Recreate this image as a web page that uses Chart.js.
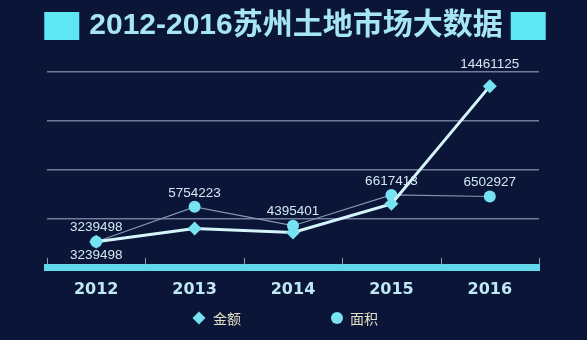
<!DOCTYPE html>
<html>
<head>
<meta charset="utf-8">
<style>
  html, body { margin: 0; padding: 0; background: #0a1538; }
  #wrap { width: 587px; height: 340px; }
</style>
<script src="https://cdn.jsdelivr.net/npm/chart.js@4/dist/chart.umd.min.js"></script>
</head>
<body>
<div id="wrap"><canvas id="c" width="587" height="340"></canvas></div>
<script>
// 苏州土地市场 2012-2016
const titleText = '2012-2016苏州土地市场大数据';
const years = ['2012', '2013', '2014', '2015', '2016'];
const amountName = '金额';
const areaName = '面积';
const amountValues = [3239498, 4200000, 3910000, 5970000, 14461125];
const areaValues = [3239498, 5754223, 4395401, 6617413, 6502927];
// which points carry a value label, and on which side
const amountLabelled = [0, 4];
const amountLabelSide = ['below', 'above'];
const areaLabelled = [0, 1, 2, 3, 4];

const BG = '#0a1538';
const MARK = '#76e2f2';

const paintPlugin = {
  id: 'paint',
  beforeDraw(chart) {
    const ctx = chart.ctx;
    ctx.save();
    ctx.fillStyle = BG;
    ctx.fillRect(0, 0, chart.width, chart.height);
    ctx.restore();
  },
  beforeDatasetsDraw(chart) {
    // short tick marks at category boundaries, rising from the axis bar
    const ctx = chart.ctx;
    const x = chart.scales.x;
    const bottom = chart.chartArea.bottom;
    ctx.save();
    ctx.strokeStyle = '#8e9bb6';
    ctx.lineWidth = 1;
    for (let i = 0; i <= years.length; i++) {
      const px = Math.round(x.getPixelForValue(i - 0.5)) + 0.5;
      ctx.beginPath();
      ctx.moveTo(px, bottom - 10);
      ctx.lineTo(px, bottom - 3);
      ctx.stroke();
    }
    ctx.restore();
  },
  afterDatasetsDraw(chart) {
    const ctx = chart.ctx;
    ctx.save();
    ctx.font = '13.5px "Liberation Sans", sans-serif';
    ctx.fillStyle = '#d3e8f3';
    ctx.textAlign = 'center';
    ctx.textBaseline = 'middle';
    const amountMeta = chart.getDatasetMeta(0);
    amountLabelled.forEach((idx, k) => {
      const p = amountMeta.data[idx];
      const dy = amountLabelSide[k] === 'below' ? 14 : -22;
      ctx.fillText(String(amountValues[idx]), p.x, p.y + dy);
    });
    const areaMeta = chart.getDatasetMeta(1);
    areaLabelled.forEach(idx => {
      const p = areaMeta.data[idx];
      ctx.fillText(String(areaValues[idx]), p.x, p.y - 14);
    });
    ctx.restore();
  },
  afterDraw(chart) {
    const ctx = chart.ctx;
    ctx.save();
    // title with square markers on both sides
    ctx.font = 'bold 30px "Liberation Sans", "Noto Sans CJK SC", sans-serif';
    ctx.textBaseline = 'middle';
    ctx.textAlign = 'center';
    const cx = 296, cy = 26;
    const tw = ctx.measureText(titleText).width;
    ctx.fillStyle = '#5fe6f4';
    ctx.fillRect(cx - tw / 2 - 45, 12, 35, 28);
    ctx.fillRect(cx + tw / 2 + 8, 12, 35, 28);
    ctx.fillStyle = '#a6e6f3';
    ctx.fillText(titleText, cx, cy);

    // legend
    const ly = 318;
    ctx.font = '14px "Noto Sans CJK SC", sans-serif';
    ctx.textAlign = 'left';
    ctx.fillStyle = MARK;
    ctx.beginPath();
    ctx.moveTo(199, ly - 6.5);
    ctx.lineTo(205.5, ly);
    ctx.lineTo(199, ly + 6.5);
    ctx.lineTo(192.5, ly);
    ctx.closePath();
    ctx.fill();
    ctx.beginPath();
    ctx.arc(337, ly, 6, 0, Math.PI * 2);
    ctx.fill();
    ctx.fillStyle = '#e4e0c4';
    ctx.fillText(amountName, 213, ly + 1);
    ctx.fillText(areaName, 350, ly + 1);
    ctx.restore();
  }
};

new Chart(document.getElementById('c'), {
  type: 'line',
  data: {
    labels: years,
    datasets: [
      {
        label: amountName,
        data: amountValues,
        order: 0,
        borderColor: '#d6f5fb',
        borderWidth: 3,
        pointStyle: 'rectRot',
        pointRadius: 7,
        pointBackgroundColor: MARK,
        pointBorderColor: MARK,
        pointBorderWidth: 0,
        tension: 0
      },
      {
        label: areaName,
        data: areaValues,
        order: 1,
        borderColor: '#8797b2',
        borderWidth: 1.2,
        pointStyle: 'circle',
        pointRadius: 6,
        pointBackgroundColor: MARK,
        pointBorderColor: MARK,
        pointBorderWidth: 0,
        tension: 0
      }
    ]
  },
  options: {
    responsive: false,
    animation: false,
    devicePixelRatio: 1,
    layout: { padding: { top: 72, left: 47, right: 48, bottom: 29 } },
    plugins: {
      legend: { display: false },
      title: { display: false },
      tooltip: { enabled: false }
    },
    scales: {
      x: {
        type: 'category',
        offset: true,
        grid: { display: false, drawTicks: false },
        border: { display: true, color: '#62d8ec', width: 7 },
        ticks: {
          color: '#bfe8f4',
          padding: 12,
          font: { family: '"DejaVu Sans", sans-serif', weight: 'bold', size: 16 }
        }
      },
      y: {
        min: 1360000,
        max: 15480000,
        ticks: { display: false, count: 5 },
        grid: { color: '#6e7d9a', lineWidth: 1.5, drawTicks: false },
        border: { display: false }
      }
    }
  },
  plugins: [paintPlugin]
});
</script>
</body>
</html>
